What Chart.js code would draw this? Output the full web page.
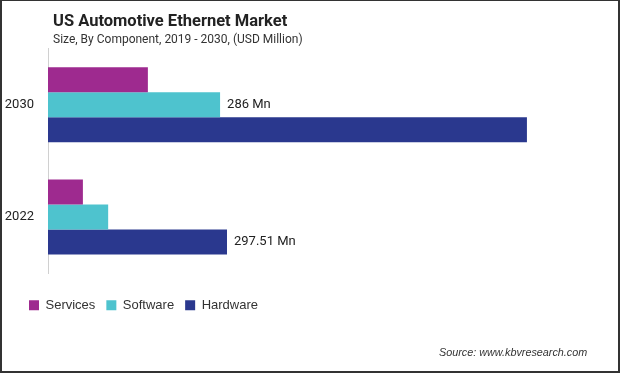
<!DOCTYPE html>
<html>
<head>
<meta charset="utf-8">
<script src="https://cdn.jsdelivr.net/npm/chart.js@4"></script>
<style>
  html, body { margin: 0; padding: 0; background: #fff; }
  #wrap { position: relative; width: 620px; height: 373px; overflow: hidden; background: #fff; }
  #c { position: absolute; left: 0; top: 0; }
  .t { position: absolute; white-space: nowrap; color: #222; font-family: Roboto, "Liberation Sans", sans-serif; }
  #title { left: 53px; top: 11px; font-size: 16.5px; font-weight: bold; line-height: 20px; }
  #subtitle { left: 53px; top: 32px; font-size: 12px; line-height: 15px; color: #333; }
  #source { left: 439px; top: 345px; font-size: 10.8px; font-style: italic; line-height: 14px; color: #333; font-family: "Liberation Sans", Arial, sans-serif; }
  #frame { position: absolute; left: 0; top: 0; width: 620px; height: 373px; box-sizing: border-box;
           border-left: 2px solid #333; border-top: 1px solid #333; border-right: 2px solid #333; border-bottom: 2px solid #333; pointer-events: none; }
</style>
</head>
<body>
<div id="wrap">
  <canvas id="c" width="620" height="373"></canvas>
  <div class="t" id="title">US Automotive Ethernet Market</div>
  <div class="t" id="subtitle">Size, By Component, 2019 - 2030, (USD Million)</div>
  <div class="t" id="source">Source: www.kbvresearch.com</div>
  <div id="frame"></div>
</div>
<script>
const categories = ["2030", "2022"];
const seriesNames = ["Services", "Software", "Hardware"];
const servicesValues = [166, 58];
const softwareValues = [286, 100];
const hardwareValues = [796, 297.51];
const servicesLabels = ["", ""];
const softwareLabels = ["286 Mn", ""];
const hardwareLabels = ["", "297.51 Mn"];
const seriesColors = ["#9e2a8f", "#4ec3ce", "#2a388e"];

const valueLabelPlugin = {
  id: "valueLabels",
  afterDatasetsDraw(chart) {
    const ctx = chart.ctx;
    ctx.save();
    ctx.font = "13px Roboto, 'Liberation Sans', sans-serif";
    ctx.fillStyle = "#222";
    ctx.textAlign = "left";
    ctx.textBaseline = "middle";
    chart.data.datasets.forEach((ds, di) => {
      const meta = chart.getDatasetMeta(di);
      meta.data.forEach((bar, i) => {
        const txt = ds.valueLabels[i];
        if (txt) ctx.fillText(txt, bar.x + 7, bar.y);
      });
    });
    ctx.restore();
  }
};

const legendShiftPlugin = {
  id: "legendShift",
  afterLayout(chart) {
    if (chart.legend) { chart.legend.left += 18; }
  }
};

new Chart(document.getElementById("c"), {
  type: "bar",
  data: {
    labels: categories,
    datasets: [
      { label: seriesNames[0], data: servicesValues, backgroundColor: seriesColors[0], valueLabels: servicesLabels },
      { label: seriesNames[1], data: softwareValues, backgroundColor: seriesColors[1], valueLabels: softwareLabels },
      { label: seriesNames[2], data: hardwareValues, backgroundColor: seriesColors[2], valueLabels: hardwareLabels }
    ]
  },
  options: {
    indexAxis: "y",
    responsive: false,
    animation: false,
    devicePixelRatio: 1,
    categoryPercentage: 0.668,
    barPercentage: 1.0,
    layout: { padding: { left: 0, top: 48.5, right: 30.5, bottom: 51.2 } },
    scales: {
      x: {
        min: 0, max: 900,
        display: true,
        grid: { display: false, drawTicks: false },
        border: { display: false },
        ticks: { display: false },
        afterFit(s) { s.height = 14.7; }
      },
      y: {
        grid: { display: false, drawTicks: false },
        border: { display: true, color: "#d0d0d0", width: 1 },
        ticks: { color: "#222", padding: 14, font: { size: 13, family: "Roboto, 'Liberation Sans', sans-serif" } },
        afterFit(s) { s.width = 48; }
      }
    },
    plugins: {
      legend: {
        position: "bottom",
        align: "start",
        labels: {
          boxWidth: 10, boxHeight: 10, padding: 11,
          color: "#333",
          font: { size: 13, family: "'Liberation Sans', Arial, sans-serif" }
        }
      },
      tooltip: { enabled: false },
      title: { display: false }
    }
  },
  plugins: [valueLabelPlugin, legendShiftPlugin]
});
</script>
</body>
</html>
